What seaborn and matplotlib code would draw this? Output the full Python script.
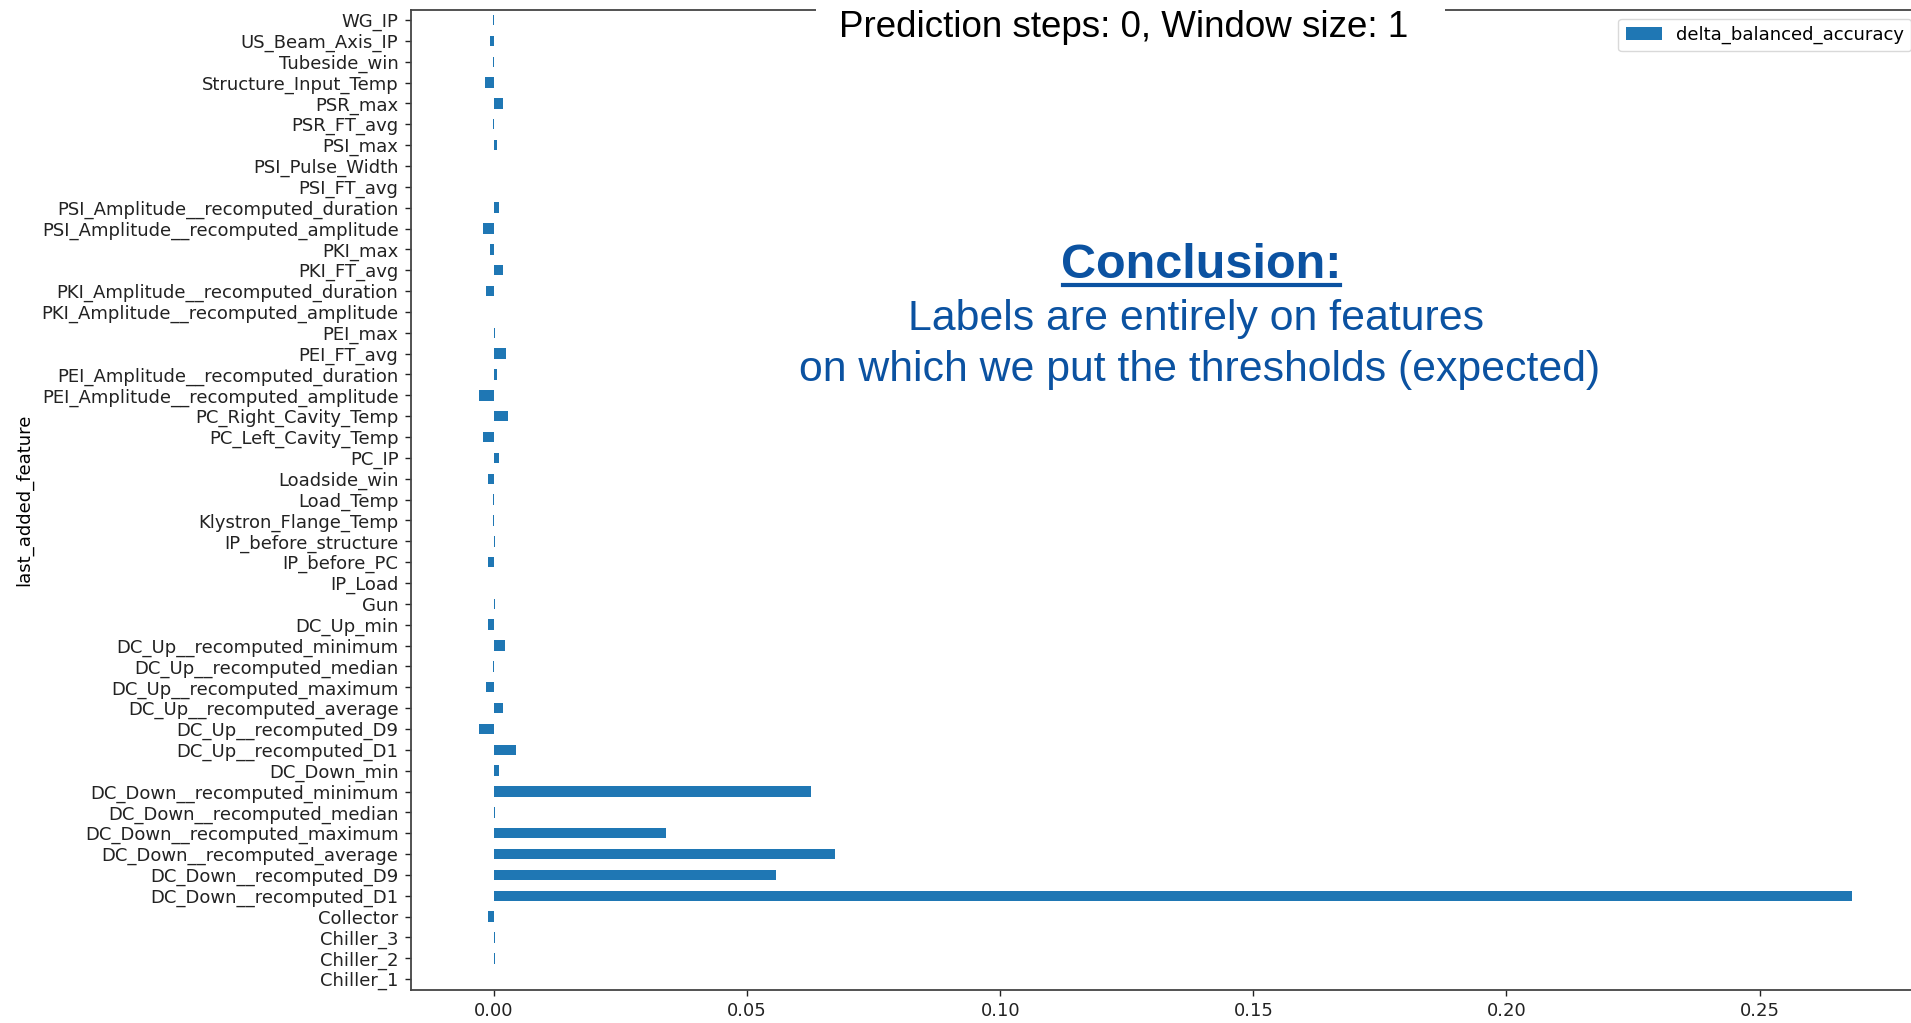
import matplotlib
matplotlib.use("Agg")
import matplotlib.pyplot as plt
import seaborn as sns
import pandas as pd
from matplotlib.patches import Rectangle
from matplotlib.lines import Line2D

# ---- data (top to bottom as displayed) ----
features = [
    "WG_IP", "US_Beam_Axis_IP", "Tubeside_win", "Structure_Input_Temp",
    "PSR_max", "PSR_FT_avg", "PSI_max", "PSI_Pulse_Width", "PSI_FT_avg",
    "PSI_Amplitude__recomputed_duration", "PSI_Amplitude__recomputed_amplitude",
    "PKI_max", "PKI_FT_avg", "PKI_Amplitude__recomputed_duration",
    "PKI_Amplitude__recomputed_amplitude", "PEI_max", "PEI_FT_avg",
    "PEI_Amplitude__recomputed_duration", "PEI_Amplitude__recomputed_amplitude",
    "PC_Right_Cavity_Temp", "PC_Left_Cavity_Temp", "PC_IP", "Loadside_win",
    "Load_Temp", "Klystron_Flange_Temp", "IP_before_structure", "IP_before_PC",
    "IP_Load", "Gun", "DC_Up_min", "DC_Up__recomputed_minimum",
    "DC_Up__recomputed_median", "DC_Up__recomputed_maximum",
    "DC_Up__recomputed_average", "DC_Up__recomputed_D9", "DC_Up__recomputed_D1",
    "DC_Down_min", "DC_Down__recomputed_minimum", "DC_Down__recomputed_median",
    "DC_Down__recomputed_maximum", "DC_Down__recomputed_average",
    "DC_Down__recomputed_D9", "DC_Down__recomputed_D1", "Collector",
    "Chiller_3", "Chiller_2", "Chiller_1",
]
delta_balanced_accuracy = [
    -0.0002, -0.0007, -0.0002, -0.0018,
    0.0017, -0.0002, 0.0006, 0.0, 0.0,
    0.0010, -0.0022,
    -0.0007, 0.0017, -0.0015,
    0.0, 0.0002, 0.0024,
    0.0006, -0.0029,
    0.0028, -0.0022, 0.0010, -0.0012,
    -0.0002, -0.0002, 0.0002, -0.0012,
    0.0, 0.0002, -0.0012, 0.0021,
    -0.0002, -0.0015,
    0.0017, -0.0029, 0.0043,
    0.0010, 0.0626, 0.0002,
    0.0339, 0.0673,
    0.0558, 0.2682, -0.0012,
    0.0002, 0.0002, 0.0,
]
series_name = "delta_balanced_accuracy"
y_label = "last_added_feature"
title_text = "Prediction steps: 0, Window size: 1"
conclusion_head = "Conclusion:"
conclusion_lines = ["Labels are entirely on features",
                    "on which we put the thresholds (expected)"]

df = pd.DataFrame({"feature": features, series_name: delta_balanced_accuracy})

W, H = 1911, 1023
fig = plt.figure(figsize=(W / 100, H / 100), dpi=100)
fig.patch.set_facecolor("white")

# axes extends slightly past the right edge (as in the cropped original)
left_px, right_px, top_px, bottom_px = 411, 1920.5, 9.6, 989.6
ax = fig.add_axes([left_px / W, 1 - bottom_px / H,
                   (right_px - left_px) / W, (bottom_px - top_px) / H])

FS = 13.0
sns.barplot(data=df, x=series_name, y="feature", order=features, orient="h",
            color="#1f77b4", saturation=1, width=0.5, linewidth=0,
            label=series_name, ax=ax, errorbar=None)

ax.set_xlim(-0.0164, 0.2818)
ax.set_ylim(len(features) - 0.5, -0.5)
ax.set_xticks([0.0, 0.05, 0.10, 0.15, 0.20, 0.25])
ax.set_xticklabels(["0.00", "0.05", "0.10", "0.15", "0.20", "0.25"])
ax.set_xlabel("")
ax.set_ylabel(y_label, fontsize=FS, labelpad=6)
ax.tick_params(axis="both", labelsize=FS, length=4.5, width=1.0, pad=4.5,
               colors="#222222")
for s in ax.spines.values():
    s.set_linewidth(1.3)
    s.set_color("#444444")
ax.grid(False)

leg = ax.legend(loc="upper right", fontsize=FS, frameon=True,
                borderaxespad=0.5, handlelength=2.0, handleheight=0.7)
leg.get_frame().set_edgecolor("#d0d0d0")
leg.get_frame().set_linewidth(1.0)

# white box hiding the top spine behind the overlaid title
fig.patches.append(Rectangle((816 / W, 1 - 48 / H), (1445 - 816) / W, 48 / H,
                             transform=fig.transFigure, facecolor="white",
                             edgecolor="none", zorder=5))
fig.text(1124 / W, 1 - 37 / H, title_text, ha="center", va="baseline",
         fontsize=26.5, family="Liberation Sans", color="black", zorder=6)

blue = "#0b52a1"
fig.text(1201 / W, 1 - 278 / H, conclusion_head, ha="center", va="baseline",
         fontsize=35, fontweight="bold", family="Liberation Sans",
         color=blue, zorder=6)
fig.lines.append(Line2D([1063 / W, 1340 / W], [1 - 285 / H, 1 - 285 / H],
                        transform=fig.transFigure, color=blue, lw=3.0,
                        zorder=6))
fig.text(1196 / W, 1 - 330 / H, conclusion_lines[0], ha="center",
         va="baseline", fontsize=30.8, family="Liberation Sans", color=blue,
         zorder=6)
fig.text(1200 / W, 1 - 381 / H, conclusion_lines[1], ha="center",
         va="baseline", fontsize=30.8, family="Liberation Sans", color=blue,
         zorder=6)

fig.savefig("out.png", dpi=100, facecolor="white")
